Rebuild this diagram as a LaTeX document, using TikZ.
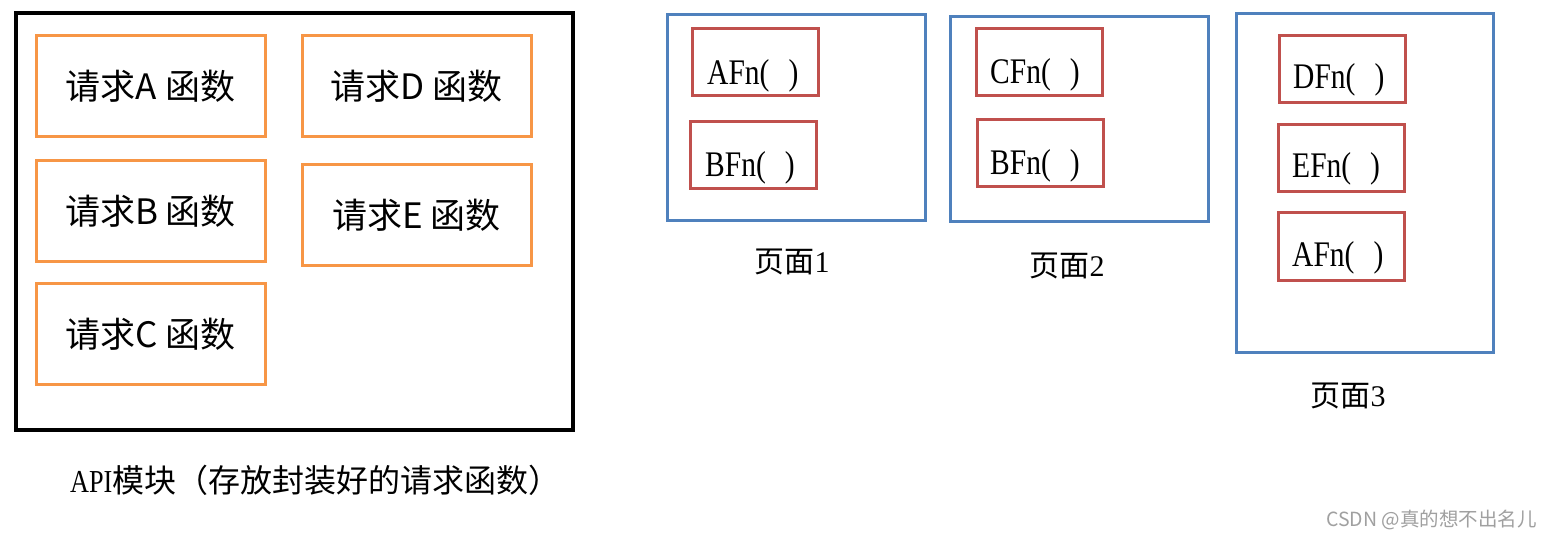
\documentclass[tikz,border=0pt]{standalone}
\usepackage{fontspec}
\setmainfont{Liberation Serif}
\newfontfamily\cjk{Noto Sans CJK SC}
\newfontfamily\nserif{Liberation Serif}[FakeStretch=0.82]
\definecolor{apiorange}{HTML}{F79646}
\definecolor{pageblue}{HTML}{4F81BD}
\definecolor{fnred}{HTML}{C0504D}
\definecolor{wmgray}{HTML}{A0A0A0}
\newcommand{\gap}{\hspace{19pt}}
\begin{document}
\begin{tikzpicture}[x=1pt,y=-1pt,
  apibox/.style={draw=black, line width=3.5pt, inner sep=0pt},
  funcbox/.style={draw=apiorange, line width=3pt, minimum width=229pt, minimum height=101pt, inner sep=0pt, font=\cjk\fontsize{35}{40}\selectfont},
  pagebox/.style={draw=pageblue, line width=3pt, inner sep=0pt},
  fnbox/.style={draw=fnred, line width=3pt, minimum width=126pt, minimum height=67pt, inner sep=0pt},
  fntext/.style={anchor=base west, inner sep=0pt, font=\nserif\fontsize{36}{40}\selectfont},
  pagelabel/.style={inner sep=0pt, font=\fontsize{30}{34}\selectfont},
  caption/.style={inner sep=0pt, font=\fontsize{32}{36}\selectfont}
]
\useasboundingbox[fill=white] (0,0) rectangle (1552,540);

% API module
\draw[apibox] (16,13) rectangle (573,430);
\node[funcbox] (fa) at (150.5,86.5) {请求A 函数};
\node[funcbox] (fd) at (416.5,86.5) {请求D 函数};
\node[funcbox] (fb) at (150.5,211) {请求B 函数};
\node[funcbox] (fe) at (416.5,215) {请求E 函数};
\node[funcbox] (fc) at (150.5,334) {请求C 函数};
\node[caption, anchor=west] (cap) at (70,480) {\nserif API\cjk 模块（存放封装好的请求函数）};

% Page 1
\draw[pagebox] (667,15) rectangle (925,220);
\node[fnbox] (p1a) at (755.5,62.5) {};
\node[fntext] (p1at) at (707,85) {AFn(\gap)};
\node[fnbox] (p1b) at (753.5,155.5) {};
\node[fntext] (p1bt) at (705,177) {BFn(\gap)};
\node[pagelabel] (l1) at (792,262) {\cjk 页面\rmfamily 1};

% Page 2
\draw[pagebox] (950,17) rectangle (1208,221);
\node[fnbox] (p2c) at (1039,62.5) {};
\node[fntext] (p2ct) at (990,84) {CFn(\gap)};
\node[fnbox] (p2b) at (1040,153.5) {};
\node[fntext] (p2bt) at (990,175) {BFn(\gap)};
\node[pagelabel] (l2) at (1067,266) {\cjk 页面\rmfamily 2};

% Page 3
\draw[pagebox] (1236,14) rectangle (1493,352);
\node[fnbox] (p3d) at (1342.5,69.5) {};
\node[fntext] (p3dt) at (1293,89) {DFn(\gap)};
\node[fnbox] (p3e) at (1341,158) {};
\node[fntext] (p3et) at (1292,178) {EFn(\gap)};
\node[fnbox] (p3a) at (1341,246.5) {};
\node[fntext] (p3at) at (1292,266) {AFn(\gap)};
\node[pagelabel] (l3) at (1348,396) {\cjk 页面\rmfamily 3};

% watermark
\node[anchor=east, inner sep=0pt, text=wmgray, font=\cjk\fontsize{19.5}{22}\selectfont] (wm) at (1537,520) {CSDN @真的想不出名儿};
\end{tikzpicture}
\end{document}
